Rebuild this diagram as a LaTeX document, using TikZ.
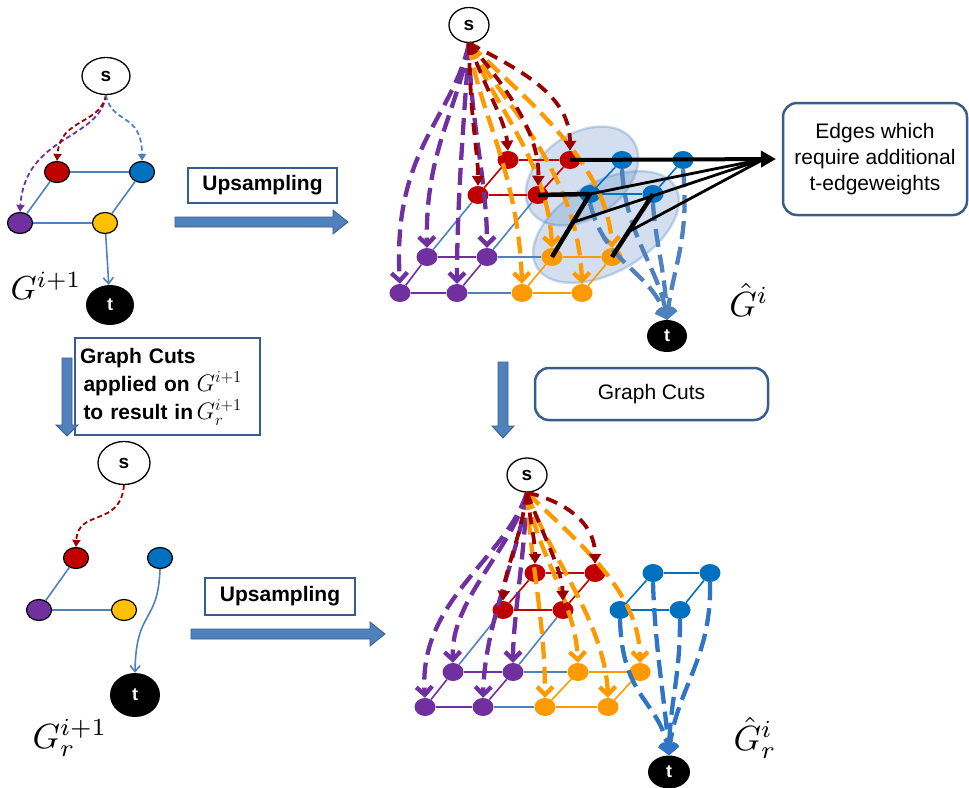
\documentclass[tikz,border=0pt]{standalone}
\usepackage[no-math]{fontspec}
\setmainfont{Liberation Sans}
\usetikzlibrary{arrows.meta,shapes.geometric,calc}
\definecolor{lnk}{HTML}{4F81BD}
\definecolor{bdr}{HTML}{385D8A}
\definecolor{cred}{HTML}{C00000}
\definecolor{cblue}{HTML}{0070C0}
\definecolor{cpurp}{HTML}{7030A0}
\definecolor{cyel}{HTML}{FFC000}
\definecolor{corg}{HTML}{FF9900}
\definecolor{dred}{HTML}{990000}
\definecolor{gblue}{HTML}{2E75C6}
\pgfdeclarelayer{bg}
\pgfsetlayers{bg,main}
\tikzset{
  sn/.style={ellipse, draw=black, line width=1.3pt, fill=white, inner sep=0pt, font=\bfseries\fontsize{19}{19}\selectfont},
  tn/.style={ellipse, fill=black, text=white, inner sep=0pt, font=\bfseries\fontsize{18}{18}\selectfont},
  smallnd/.style={ellipse, draw=black, line width=1.2pt, minimum width=25pt, minimum height=21pt, inner sep=0pt},
  gn/.style={ellipse, minimum width=21pt, minimum height=18pt, inner sep=0pt},
  lk/.style={draw=lnk, line width=1.6pt},
  er/.style={draw=cred, line width=1.6pt},
  eb/.style={draw=cblue, line width=1.6pt},
  ep/.style={draw=cpurp, line width=1.6pt},
  eo/.style={draw=corg, line width=1.6pt},
  pd/.style={draw=cpurp, line width=4.3pt, dash pattern=on 17pt off 8pt, -{Straight Barb[length=8pt,width=16pt]}},
  od/.style={draw=corg, line width=4.3pt, dash pattern=on 17pt off 8pt, -{Straight Barb[length=8pt,width=16pt]}},
  rdd/.style={draw=dred, line width=3.8pt, dash pattern=on 12pt off 8pt, -{Triangle[length=10pt,width=12pt]}},
  bdt/.style={draw=lnk, line width=4.3pt, dash pattern=on 18pt off 8pt, -{Straight Barb[length=8pt,width=16pt]}},
  bdb/.style={draw=gblue, line width=4.3pt, dash pattern=on 18pt off 8pt, -{Straight Barb[length=8pt,width=16pt]}},
  sdr/.style={draw=dred, line width=1.8pt, dash pattern=on 5pt off 3pt, -{Triangle[length=7pt,width=8pt]}},
  sdp/.style={draw=cpurp, line width=1.8pt, dash pattern=on 5pt off 3pt, -{Triangle[length=7pt,width=8pt]}},
  sdb/.style={draw=lnk, line width=1.8pt, dash pattern=on 5pt off 3pt, -{Triangle[length=7pt,width=8pt]}},
  sqbox/.style={draw=bdr, line width=2.5pt, fill=white, inner sep=4pt},
  rbox/.style={draw=bdr, line width=2.5pt, fill=white, rounded corners=14pt, align=center, inner sep=4pt},
  bigarrow/.style={fill=lnk, draw=bdr, line width=0.8pt},
  blk/.style={draw=black, line width=2.8pt},
  blkt/.style={draw=black, line width=4.5pt},
  glabel/.style={scale=3.5, inner sep=0pt},
}
\begin{document}
\begin{tikzpicture}[x=1pt,y=-1pt]
\useasboundingbox (0,0) rectangle (969,787);

% ---------- top-left small graph ----------
\node[sn, minimum width=48pt, minimum height=37pt] (s1) at (106,76) {s};
\node[smallnd, fill=cred] (r1) at (57,172) {};
\node[smallnd, fill=cblue] (b1) at (142,172) {};
\node[smallnd, fill=cpurp] (p1) at (20,223) {};
\node[smallnd, fill=cyel] (y1) at (105,223) {};
\node[tn, minimum width=48pt, minimum height=40pt] (t1) at (110,305) {t};
\draw[lk] (r1) -- (b1);
\draw[lk] (r1) -- (p1);
\draw[lk] (b1) -- (y1);
\draw[lk] (p1) -- (y1);
\draw[lk, -{Straight Barb[length=6pt,width=10pt]}] (y1) -- (t1);
\draw[sdp] (s1.south) .. controls (100,140) and (25,135) .. (p1.north);
\draw[sdr] (s1.south) .. controls (100,125) and (60,118) .. (r1.north);
\draw[sdb] (s1.south) .. controls (112,125) and (142,112) .. (b1.north);
\node[glabel, scale=0.95] (lg1) at (46,286) {$G^{i+1}$};

% ---------- top upsampling ----------
\node[sqbox, minimum width=149pt, minimum height=35pt, font=\bfseries\fontsize{21}{21}\selectfont] (up1) at (262.5,185.5) {Upsampling};
\draw[bigarrow] (175,217) -- (333,217) -- (333,210) -- (348,222) -- (333,234) -- (333,227) -- (175,227) -- cycle;

% ---------- left graph cuts box ----------
\node[sqbox, minimum width=185pt, minimum height=97pt, align=left, text width=175pt, font=\bfseries\fontsize{21}{28}\selectfont] (gc1) at (167.5,386.5)
  {Graph Cuts\\ \,applied on \scalebox{1.15}{$G^{i+1}$}\\ \,to result in\,\scalebox{1.15}{$G_r^{i+1}$}};
\draw[bigarrow] (62,358) -- (72,358) -- (72,425) -- (78,425) -- (67,436) -- (56,425) -- (62,425) -- cycle;

% ---------- bottom-left small graph ----------
\node[sn, minimum width=52pt, minimum height=43pt] (s2) at (124,463) {s};
\node[smallnd, fill=cred] (r2) at (76,558) {};
\node[smallnd, fill=cblue] (b2) at (160,558) {};
\node[smallnd, fill=cpurp] (p2) at (39,610) {};
\node[smallnd, fill=cyel] (y2) at (124,610) {};
\node[tn, minimum width=50pt, minimum height=44pt] (t2) at (135,695) {t};
\draw[lk] (r2) -- (p2);
\draw[lk] (p2) -- (y2);
\draw[lk, -{Straight Barb[length=6pt,width=10pt]}] (b2.south) .. controls (158,625) and (136,608) .. (t2.north);
\draw[sdr] (s2.south) .. controls (120,528) and (78,508) .. (r2.north);
\node[glabel] (lg2) at (70,738) {$G_r^{i+1}$};

% ---------- bottom upsampling ----------
\node[sqbox, minimum width=150pt, minimum height=37pt, font=\bfseries\fontsize{21}{21}\selectfont] (up2) at (280,596.5) {Upsampling};
\draw[bigarrow] (191,629) -- (370,629) -- (370,622) -- (385,634) -- (370,646) -- (370,639) -- (191,639) -- cycle;

% ---------- right boxes ----------
\node[rbox, minimum width=184pt, minimum height=112pt, font=\fontsize{21}{26}\selectfont] (eb) at (875,159)
  {Edges which\\require additional\\t-edgeweights};
\node[rbox, minimum width=233pt, minimum height=52pt, font=\fontsize{21}{21}\selectfont] (gc2) at (651.5,394) {Graph Cuts};
\draw[bigarrow] (498,362) -- (508,362) -- (508,426) -- (514,426) -- (503,438) -- (492,426) -- (498,426) -- cycle;

% ---------- top upsampled graph ----------
\begin{pgfonlayer}{bg}
\filldraw[fill=lnk, fill opacity=0.25, draw=lnk, draw opacity=0.3, line width=2.5pt, rotate around={35:(582,176)}] (582,176) ellipse [x radius=62, y radius=42];
\filldraw[fill=lnk, fill opacity=0.25, draw=lnk, draw opacity=0.3, line width=2.5pt, rotate around={30:(606,227)}] (606,227) ellipse [x radius=80, y radius=45];
\end{pgfonlayer}
\node[sn, minimum width=40pt, minimum height=35pt] (ts) at (469,25) {s};
\node[gn, fill=cred] (tR00) at (508,160) {};
\node[gn, fill=cred] (tR01) at (570,160) {};
\node[gn, fill=cblue] (tB02) at (622,160) {};
\node[gn, fill=cblue] (tB03) at (683,160) {};
\node[gn, fill=cred] (tR10) at (478,195) {};
\node[gn, fill=cred] (tR11) at (538,195) {};
\node[gn, fill=cblue] (tB12) at (590,194) {};
\node[gn, fill=cblue] (tB13) at (653,194) {};
\node[gn, fill=cpurp] (tP20) at (427,257) {};
\node[gn, fill=cpurp] (tP21) at (487,257) {};
\node[gn, fill=corg] (tO22) at (552,257) {};
\node[gn, fill=corg] (tO23) at (612,257) {};
\node[gn, fill=cpurp] (tP30) at (400,293) {};
\node[gn, fill=cpurp] (tP31) at (457,293) {};
\node[gn, fill=corg] (tO32) at (522,293) {};
\node[gn, fill=corg] (tO33) at (582,293) {};
\node[tn, minimum width=40pt, minimum height=32pt] (tt) at (667,336) {t};
% grid edges
\draw[er] (tR00) -- (tR01); \draw[eb] (tB02) -- (tB03);
\draw[er] (tR10) -- (tR11); \draw[eb] (tB12) -- (tB13);
\draw[ep] (tP20) -- (tP21); \draw[lk] (tP21) -- (tO22); \draw[eo] (tO22) -- (tO23);
\draw[ep] (tP30) -- (tP31); \draw[lk] (tP31) -- (tO32); \draw[eo] (tO32) -- (tO33);
\draw[er] (tR00) -- (tR10); \draw[lk] (tR10) -- (tP20); \draw[ep] (tP20) -- (tP30);
\draw[er] (tR01) -- (tR11); \draw[lk] (tR11) -- (tP21); \draw[ep] (tP21) -- (tP31);
\draw[eb] (tB02) -- (tB12); \draw[eo] (tO22) -- (tO32);
\draw[eb] (tB03) -- (tB13); \draw[eo] (tO23) -- (tO33);
% dashed s-links
\draw[pd] (ts.south) .. controls (452,120) and (392,150) .. (tP30.north);
\draw[pd] (ts.south) .. controls (458,110) and (425,150) .. (tP20.north);
\draw[pd] (ts.south) .. controls (464,120) and (457,200) .. (tP31.north);
\draw[pd] (ts.south) .. controls (470,120) and (487,180) .. (tP21.north);
\draw[od] (ts.south) .. controls (478,110) and (518,170) .. (tO32.north);
\draw[od] (ts.south) .. controls (490,100) and (548,160) .. (tO22.north);
\draw[od] (ts.south) .. controls (500,100) and (578,170) .. (tO33.north);
\draw[od] (ts.south) .. controls (520,95) and (607,160) .. (tO23.north);
\draw[rdd] (ts.south) .. controls (520,70) and (570,95) .. (tR01.north);
\draw[rdd] (ts.south) .. controls (500,80) and (540,130) .. (tR11.north);
\draw[rdd] (ts.south) .. controls (488,95) and (505,120) .. (tR00.north);
\draw[rdd] (ts.south) .. controls (470,120) and (478,150) .. (tR10.north);
\draw[bdt] (tB02.south) .. controls (625,235) and (660,270) .. (tt.north);
\draw[bdt] (tB03.south) .. controls (690,240) and (672,270) .. (tt.north);
\draw[bdt] (tB12.south) .. controls (605,265) and (650,270) .. (tt.north);
\draw[bdt] (tB13.south) .. controls (655,240) and (665,270) .. (tt.north);
% black lines to the box
\coordinate (A) at (776,159);
\coordinate (A2) at (764,159);
\draw[blk, line width=4pt, -{Triangle[length=15pt,width=16pt]}] (tR01.center) -- (A);
\draw[blkt] (tR11.center) -- (tB12.center);
\draw[blk] (tB12.center) -- (A2);
\draw[blkt] (tO22.center) -- (tB12.center);
\coordinate (m1) at ($(tO22)!0.55!(tB12)$);
\draw[blk] (m1) -- (A2);
\draw[blkt] (tO23.center) -- (tB13.center);
\coordinate (m2) at ($(tO23)!0.4!(tB13)$);
\draw[blk] (m2) -- (A2);
\node[glabel] (lg3) at (749,300) {$\hat{G}^{i}$};

% ---------- bottom upsampled graph ----------
\node[sn, minimum width=40pt, minimum height=34pt] (bs) at (527,475) {s};
\node[gn, fill=cred] (bR00) at (535,573) {};
\node[gn, fill=cred] (bR01) at (595,573) {};
\node[gn, fill=cblue] (bB02) at (653,573) {};
\node[gn, fill=cblue] (bB03) at (710,573) {};
\node[gn, fill=cred] (bR10) at (503,610) {};
\node[gn, fill=cred] (bR11) at (563,610) {};
\node[gn, fill=cblue] (bB12) at (620,610) {};
\node[gn, fill=cblue] (bB13) at (680,610) {};
\node[gn, fill=cpurp] (bP20) at (453,672) {};
\node[gn, fill=cpurp] (bP21) at (513,672) {};
\node[gn, fill=corg] (bO22) at (578,672) {};
\node[gn, fill=corg] (bO23) at (640,672) {};
\node[gn, fill=cpurp] (bP30) at (425,707) {};
\node[gn, fill=cpurp] (bP31) at (483,707) {};
\node[gn, fill=corg] (bO32) at (545,707) {};
\node[gn, fill=corg] (bO33) at (608,707) {};
\node[tn, minimum width=42pt, minimum height=33pt] (bt) at (669,772) {t};
\draw[er] (bR00) -- (bR01); \draw[eb] (bB02) -- (bB03);
\draw[er] (bR10) -- (bR11); \draw[eb] (bB12) -- (bB13);
\draw[ep] (bP20) -- (bP21); \draw[lk] (bP21) -- (bO22); \draw[eo] (bO22) -- (bO23);
\draw[ep] (bP30) -- (bP31); \draw[lk] (bP31) -- (bO32); \draw[eo] (bO32) -- (bO33);
\draw[er] (bR00) -- (bR10); \draw[lk] (bR10) -- (bP20); \draw[ep] (bP20) -- (bP30);
\draw[er] (bR01) -- (bR11); \draw[lk] (bR11) -- (bP21); \draw[ep] (bP21) -- (bP31);
\draw[eb] (bB02) -- (bB12); \draw[eo] (bO22) -- (bO32);
\draw[eb] (bB03) -- (bB13); \draw[eo] (bO23) -- (bO33);
\draw[pd] (bs.south) .. controls (505,560) and (418,600) .. (bP30.north);
\draw[pd] (bs.south) .. controls (512,550) and (450,600) .. (bP20.north);
\draw[pd] (bs.south) .. controls (518,560) and (485,620) .. (bP31.north);
\draw[pd] (bs.south) .. controls (524,560) and (513,620) .. (bP21.north);
\draw[od] (bs.south) .. controls (530,560) and (545,620) .. (bO32.north);
\draw[od] (bs.south) .. controls (535,550) and (575,600) .. (bO22.north);
\draw[od] (bs.south) .. controls (545,550) and (605,620) .. (bO33.north);
\draw[od] (bs.south) .. controls (575,540) and (640,590) .. (bO23.north);
\draw[rdd] (bs.south) .. controls (560,500) and (595,520) .. (bR01.north);
\draw[rdd] (bs.south) .. controls (545,540) and (562,570) .. (bR11.north);
\draw[rdd] (bs.south) .. controls (530,520) and (535,540) .. (bR00.north);
\draw[rdd] (bs.south) .. controls (520,540) and (505,570) .. (bR10.north);
\draw[bdb] (bB02.south) .. controls (655,650) and (665,700) .. (bt.north);
\draw[bdb] (bB03.south) .. controls (712,660) and (675,690) .. (bt.north);
\draw[bdb] (bB12.south) .. controls (622,700) and (660,700) .. (bt.north);
\draw[bdb] (bB13.south) .. controls (680,680) and (670,700) .. (bt.north);
\node[glabel] (lg4) at (755,738) {$\hat{G}_r^{i}$};
\end{tikzpicture}
\end{document}
